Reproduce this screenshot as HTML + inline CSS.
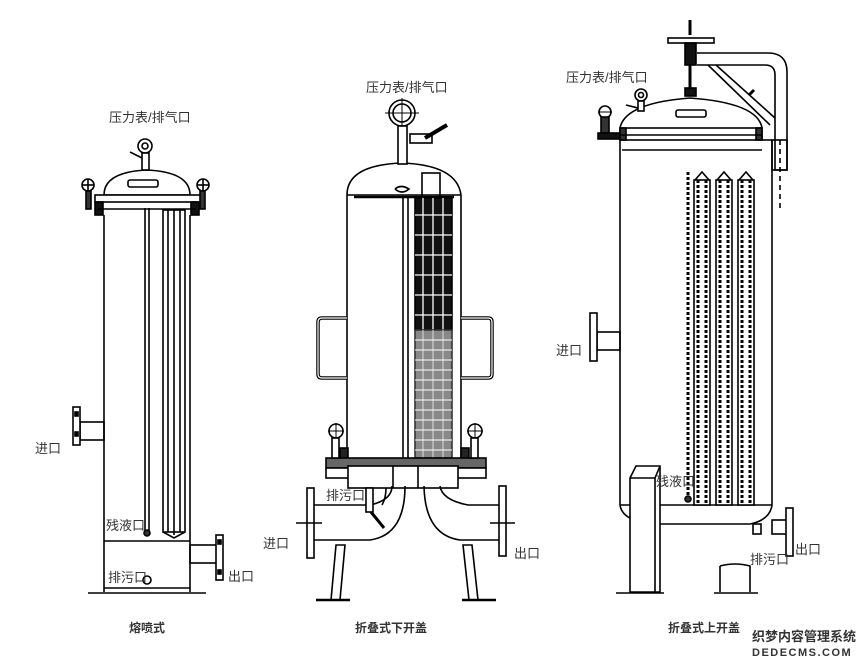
<!DOCTYPE html>
<html><head><meta charset="utf-8"><style>
html,body{margin:0;padding:0;background:#fff;width:860px;height:660px;overflow:hidden}
svg{display:block}
text{font-family:"Liberation Sans","Noto Sans CJK SC",sans-serif;fill:#333}
</style></head><body>
<svg width="860" height="660" viewBox="0 0 860 660" xmlns="http://www.w3.org/2000/svg" fill="none" stroke="#000" stroke-width="1.6">
<!-- ============ LEFT ============ -->
<g>
<path d="M104 195 Q104 172 147 170 Q190 172 190 195 Z" fill="#fff"/>
<rect x="128" y="180" width="30" height="7" rx="2"/>
<rect x="95" y="195" width="106" height="7" fill="#fff"/>
<rect x="95" y="202" width="8" height="13" fill="#111"/>
<rect x="191" y="202" width="8" height="13" fill="#111"/>
<line x1="98" y1="209" x2="196" y2="209"/>
<circle cx="88" cy="185" r="6"/><line x1="82" y1="185" x2="94" y2="185"/><line x1="88" y1="179" x2="88" y2="191"/>
<rect x="86" y="191" width="5" height="18" fill="#333"/>
<circle cx="203" cy="185" r="6"/><line x1="197" y1="185" x2="209" y2="185"/><line x1="203" y1="179" x2="203" y2="191"/>
<rect x="200" y="191" width="5" height="18" fill="#333"/>
<circle cx="145" cy="146" r="7"/><circle cx="145" cy="146" r="3"/>
<rect x="142" y="153" width="7" height="17" fill="#fff"/>
<path d="M130 152 L142 158"/>
<line x1="104" y1="215" x2="104" y2="592"/>
<line x1="190" y1="215" x2="190" y2="592"/>
<line x1="104" y1="541" x2="190" y2="541"/>
<line x1="104" y1="588" x2="190" y2="588"/>
<line x1="88" y1="593" x2="206" y2="593"/>
<line x1="145" y1="208" x2="145" y2="532"/><line x1="149" y1="208" x2="149" y2="532"/>
<circle cx="147" cy="533" r="3" fill="#333"/>
<rect x="163" y="210" width="22" height="322"/>
<line x1="168" y1="210" x2="168" y2="532"/><line x1="180" y1="210" x2="180" y2="532"/><line x1="174" y1="210" x2="174" y2="535"/>
<path d="M163 532 L174 538 L185 532"/>
<rect x="80" y="422" width="24" height="18"/>
<rect x="73" y="407" width="7" height="38" fill="#fff"/>
<rect x="75" y="412" width="3" height="4" fill="#000"/><rect x="75" y="432" width="3" height="4" fill="#000"/>
<rect x="190" y="545" width="28" height="18"/>
<rect x="216" y="535" width="7" height="45" fill="#fff"/>
<rect x="218" y="540" width="3" height="4" fill="#000"/><rect x="218" y="570" width="3" height="4" fill="#000"/>
<circle cx="147" cy="580" r="4"/>
</g>
<!-- ============ MIDDLE ============ -->
<g>
<path d="M347 195 Q347 165 402 163 Q457 165 461 195"/>
<line x1="347" y1="195" x2="347" y2="460"/><line x1="461" y1="195" x2="461" y2="460"/>
<line x1="347" y1="195" x2="461" y2="195"/>
<line x1="354" y1="197" x2="454" y2="197" stroke-width="2.5"/>
<circle cx="402" cy="113" r="13"/><circle cx="402" cy="113" r="9"/>
<line x1="385" y1="113" x2="419" y2="113" stroke-width="1"/><line x1="402" y1="98" x2="402" y2="128" stroke-width="1"/>
<rect x="398" y="126" width="9" height="38" fill="#fff"/>
<rect x="410" y="134" width="22" height="9" fill="#fff"/>
<path d="M425 138 L447 125" stroke-width="4"/>
<path d="M395 189 q6 -5 14 0 q-7 6 -14 0"/>
<line x1="403" y1="197" x2="403" y2="460"/><line x1="408" y1="197" x2="408" y2="460"/>
<rect x="422" y="173" width="18" height="24"/>
<rect x="415" y="198" width="37" height="132" fill="#111"/>
<g stroke="#fff" stroke-width="1.3">
<line x1="423" y1="198" x2="423" y2="330"/><line x1="433" y1="198" x2="433" y2="330"/><line x1="443" y1="198" x2="443" y2="330"/>
<line x1="415" y1="215" x2="452" y2="215"/><line x1="415" y1="235" x2="452" y2="235"/><line x1="415" y1="255" x2="452" y2="255"/><line x1="415" y1="275" x2="452" y2="275"/><line x1="415" y1="295" x2="452" y2="295"/><line x1="415" y1="315" x2="452" y2="315"/>
</g>
<rect x="415" y="330" width="37" height="128" fill="#888" stroke="#333"/>
<g stroke="#ddd" stroke-width="1">
<line x1="423" y1="330" x2="423" y2="458"/><line x1="433" y1="330" x2="433" y2="458"/><line x1="443" y1="330" x2="443" y2="458"/>
</g>
<path d="M415 340 H452 M415 350 H452 M415 360 H452 M415 370 H452 M415 380 H452 M415 390 H452 M415 400 H452 M415 410 H452 M415 420 H452 M415 430 H452 M415 440 H452 M415 450 H452" stroke="#fff" stroke-width="1"/>
<path d="M347 318 H322 Q318 318 318 322 V374 Q318 378 322 378 H347" stroke-width="3.5"/>
<path d="M347 318 H322 Q318 318 318 322 V374 Q318 378 322 378 H347" stroke="#fff" stroke-width="1.2"/>
<path d="M461 318 H488 Q492 318 492 322 V374 Q492 378 488 378 H461" stroke-width="3.5"/>
<path d="M461 318 H488 Q492 318 492 322 V374 Q492 378 488 378 H461" stroke="#fff" stroke-width="1.2"/>
<rect x="340" y="448" width="8" height="12" fill="#222"/><rect x="461" y="448" width="8" height="12" fill="#222"/>
<rect x="326" y="458" width="160" height="10" fill="#666"/>
<rect x="326" y="468" width="160" height="10" fill="#fff"/>
<rect x="348" y="466" width="110" height="22" fill="#fff"/>
<line x1="393" y1="466" x2="393" y2="488"/><line x1="418" y1="466" x2="418" y2="488"/>
<circle cx="336" cy="431" r="7"/><line x1="328" y1="431" x2="344" y2="431" stroke-width="1"/><line x1="336" y1="423" x2="336" y2="439" stroke-width="1"/>
<rect x="332" y="438" width="7" height="20" fill="#fff"/>
<circle cx="475" cy="431" r="7"/><line x1="467" y1="431" x2="483" y2="431" stroke-width="1"/><line x1="475" y1="423" x2="475" y2="439" stroke-width="1"/>
<rect x="471" y="438" width="7" height="20" fill="#fff"/>
<path d="M314 505 H370 Q392 500 392 486 M314 540 H370 Q405 535 405 486"/>
<path d="M382 505 Q386 498 386 488"/>
<rect x="307" y="488" width="7" height="70" fill="#fff"/>
<line x1="296" y1="523" x2="322" y2="523"/>
<path d="M500 505 H468 Q442 500 440 486 M500 540 H460 Q425 535 424 486"/>
<rect x="499" y="486" width="7" height="70" fill="#fff"/>
<line x1="490" y1="523" x2="515" y2="523"/>
<rect x="366" y="488" width="7" height="24" fill="#fff"/>
<path d="M371 512 L384 528" stroke-width="3"/>
<path d="M336 545 L345 545 L340 600 L331 600 Z"/>
<line x1="316" y1="600" x2="350" y2="600" stroke-width="2.5"/>
<path d="M463 545 L472 545 L478 600 L469 600 Z"/>
<line x1="462" y1="600" x2="496" y2="600" stroke-width="2.5"/>
</g>
<!-- ============ RIGHT ============ -->
<g>
<path d="M620 128 Q625 103 690 98 Q758 103 762 128"/>
<rect x="620" y="128" width="142" height="12"/>
<rect x="620" y="128" width="6" height="12" fill="#333"/><rect x="756" y="128" width="6" height="12" fill="#333"/>
<line x1="620" y1="135" x2="762" y2="135"/>
<line x1="620" y1="140" x2="620" y2="505"/><line x1="772" y1="140" x2="772" y2="505"/>
<line x1="762" y1="140" x2="772" y2="140"/>
<line x1="622" y1="150" x2="762" y2="150"/>
<path d="M620 505 Q622 520 650 524 L750 524 Q770 520 772 505"/>
<line x1="620" y1="505" x2="772" y2="505"/>
<rect x="676" y="110" width="30" height="7" rx="2"/>
<circle cx="641" cy="95" r="6"/><circle cx="641" cy="95" r="2.5"/>
<rect x="638" y="101" width="6" height="10" fill="#fff"/>
<path d="M626 105 L638 108"/>
<circle cx="605" cy="112" r="6"/><line x1="598" y1="112" x2="612" y2="112" stroke-width="1"/>
<rect x="601" y="117" width="8" height="16" fill="#333"/>
<rect x="598" y="133" width="22" height="6" fill="#111"/>
<line x1="690" y1="20" x2="690" y2="35" stroke-width="3"/>
<rect x="668" y="38" width="46" height="5" fill="#fff"/>
<rect x="685" y="43" width="11" height="22" fill="#111"/>
<line x1="690" y1="65" x2="690" y2="90" stroke-width="3"/>
<rect x="685" y="88" width="11" height="8" fill="#111"/>
<path d="M697 53 H768 Q787 53 787 72 V170 H775 V75 Q775 65 765 65 H697"/>
<rect x="772" y="140" width="15" height="30"/>
<line x1="780" y1="140" x2="780" y2="212" stroke-dasharray="5,4"/>
<path d="M708 65 L770 125 M716 65 L775 118"/>
<line x1="749" y1="95" x2="754" y2="90" stroke-width="3"/>
<line x1="688" y1="172" x2="688" y2="500" stroke-width="3" stroke-dasharray="3,2"/>
<g>
<rect x="694" y="180" width="16" height="325" fill="#fff"/>
<line x1="698" y1="180" x2="698" y2="505" stroke-width="3" stroke-dasharray="3,2"/>
<line x1="706" y1="180" x2="706" y2="505" stroke-width="3" stroke-dasharray="3,2"/>
<path d="M695 180 L702 172 L709 180"/>
<rect x="716" y="180" width="16" height="325" fill="#fff"/>
<line x1="720" y1="180" x2="720" y2="505" stroke-width="3" stroke-dasharray="3,2"/>
<line x1="728" y1="180" x2="728" y2="505" stroke-width="3" stroke-dasharray="3,2"/>
<path d="M717 180 L724 172 L731 180"/>
<rect x="738" y="180" width="16" height="325" fill="#fff"/>
<line x1="742" y1="180" x2="742" y2="505" stroke-width="3" stroke-dasharray="3,2"/>
<line x1="750" y1="180" x2="750" y2="505" stroke-width="3" stroke-dasharray="3,2"/>
<path d="M739 180 L746 172 L753 180"/>
</g>
<circle cx="688" cy="499" r="3" fill="#333"/>
<rect x="597" y="332" width="23" height="18"/>
<rect x="590" y="313" width="7" height="48" fill="#fff"/>
<rect x="772" y="520" width="17" height="14"/>
<rect x="786" y="508" width="7" height="48" fill="#fff"/>
<rect x="753" y="524" width="8" height="10"/>
<path d="M630 478 L636 466 L660 466 L660 592 L630 592 Z" fill="#fff"/>
<path d="M630 478 L655 478 L660 466 M655 478 V592"/>
<line x1="616" y1="593" x2="664" y2="593"/>
<path d="M720 566 Q735 562 750 566 V592 M720 566 V592"/>
<line x1="714" y1="593" x2="758" y2="593"/>
</g>
<!-- ============ LABELS ============ -->
<g stroke="none" font-size="13">
<text x="109" y="122">压力表/排气口</text>
<text x="366" y="92">压力表/排气口</text>
<text x="566" y="82">压力表/排气口</text>
<text x="35" y="453">进口</text>
<text x="263" y="548">进口</text>
<text x="556" y="355">进口</text>
<text x="228" y="581">出口</text>
<text x="514" y="558">出口</text>
<text x="795" y="554">出口</text>
<text x="106" y="530">残液口</text>
<text x="656" y="486">残液口</text>
<text x="108" y="582">排污口</text>
<text x="326" y="500">排污口</text>
<text x="750" y="564">排污口</text>
</g>
<g stroke="none" font-size="12" font-weight="bold">
<text x="129" y="632" fill="#111">熔喷式</text>
<text x="355" y="632" fill="#111">折叠式下开盖</text>
<text x="668" y="632" fill="#111">折叠式上开盖</text>
</g>
<g stroke="none" font-weight="bold">
<text x="752" y="641" font-size="13" fill="#333">织梦内容管理系统</text>
<text x="752" y="656" font-size="11" fill="#333" letter-spacing="1.5">DEDECMS.COM</text>
</g>
</svg>
</body></html>
